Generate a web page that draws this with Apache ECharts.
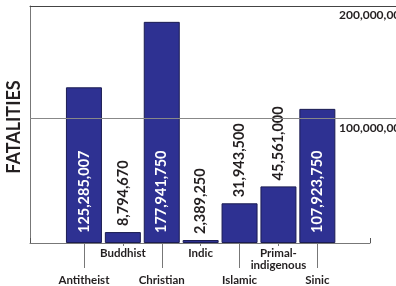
<!DOCTYPE html>
<html>
<head>
<meta charset="utf-8">
<script src="https://cdn.jsdelivr.net/npm/echarts@6/dist/echarts.min.js"></script>
<style>
html,body{margin:0;padding:0;background:#fff;}
#chart{width:396px;height:286px;}
</style>
</head>
<body>
<div id="chart"></div>
<script>
// ---- data ----
const categories = ['Antitheist', 'Buddhist', 'Christian', 'Indic', 'Islamic', 'Primal-\nindigenous', 'Sinic'];
const fatalities = [125285007, 8794670, 177941750, 2389250, 31943500, 45561000, 107923750];
const yTickValues = [100000000, 200000000];
const yTickLabels = ['100,000,000', '200,000,000'];
const axisTitle = 'FATALITIES';

// ---- layout ----
const Y_MAX = 190700000;      // value at the top frame line
const INSIDE_LIMIT = 60000000; // bars taller than this carry their label inside
const TOP = 6, BOTTOM = 43;
const FONT = 'Lato, "Open Sans", sans-serif';
const BAR = '#2e3192';
const TXT = '#231f20';

const fmt = v => v.toLocaleString('en-US');

const barData = fatalities.map(v => {
  const inside = v > INSIDE_LIMIT;
  return {
    value: v,
    label: inside
      ? { position: 'insideBottom', distance: 10, color: '#fff' }
      : { position: 'top', distance: 6, color: TXT }
  };
});

const gridBase = { top: TOP, bottom: BOTTOM, containLabel: false, outerBoundsMode: 'none' };

const chart = echarts.init(document.getElementById('chart'), null, { renderer: 'canvas' });
chart.setOption({
  animation: false,
  backgroundColor: '#fff',
  grid: [
    Object.assign({ left: 30, right: 0 }, gridBase),         // frame + gridline
    Object.assign({ left: 30, right: 26 }, gridBase),        // baseline + tick labels
    Object.assign({ left: 64.5, right: 59.2 }, gridBase)     // bars
  ],
  graphic: [{
    type: 'text', x: 14, y: 127, rotation: Math.PI / 2,
    style: { text: axisTitle, fontFamily: FONT, fontSize: 18, fontWeight: 'bold',
      fill: TXT, align: 'center', verticalAlign: 'middle' }
  }],
  xAxis: [
    { gridIndex: 0, type: 'value', position: 'top', min: 0, max: 1,
      axisLine: { show: true, onZero: false, lineStyle: { color: '#444', width: 1 } },
      axisTick: { show: false }, axisLabel: { show: false }, splitLine: { show: false } },
    { gridIndex: 1, type: 'value', position: 'bottom', min: 0, max: 1, interval: 1,
      axisLine: { show: true, onZero: false, lineStyle: { color: '#777', width: 1 } },
      axisTick: { show: true, inside: true, length: 5, lineStyle: { color: '#555' } },
      axisLabel: { show: false }, splitLine: { show: false } },
    { gridIndex: 2, type: 'category', data: categories,
      axisLine: { show: false, onZero: false },
      axisTick: { show: true, alignWithLabel: true, length: 25,
        interval: (i) => i % 2 === 0, lineStyle: { color: '#777' } },
      axisLabel: { interval: (i) => i % 2 === 0, margin: 31, fontFamily: FONT,
        fontSize: 11.5, fontWeight: 'bold', color: TXT } },
    { gridIndex: 2, type: 'category', data: categories, position: 'bottom',
      axisLine: { show: false, onZero: false },
      axisTick: { show: true, alignWithLabel: true, length: 3,
        interval: (i) => i % 2 === 1, lineStyle: { color: '#777' } },
      axisLabel: { interval: (i) => i % 2 === 1, margin: 4.5, fontFamily: FONT,
        fontSize: 11.5, fontWeight: 'bold', color: TXT, lineHeight: 12 } }
  ],
  yAxis: [
    { gridIndex: 0, type: 'value', min: 0, max: Y_MAX,
      axisLine: { show: true, onZero: false, lineStyle: { color: '#777', width: 1 } },
      axisTick: { show: false }, axisLabel: { show: false },
      splitLine: { show: false } },
    { gridIndex: 1, type: 'value', position: 'right', min: 0, max: Y_MAX,
      axisLine: { show: false }, axisTick: { show: false },
      axisLabel: {
        customValues: [yTickValues[0], Y_MAX],
        formatter: (v) => v >= Y_MAX ? yTickLabels[1] : yTickLabels[yTickValues.indexOf(v)],
        margin: -31, align: 'left', verticalAlign: 'top', padding: [3, 0, 0, 0],
        fontFamily: FONT, fontSize: 12, fontWeight: 'bold', color: TXT
      },
      splitLine: { show: false } },
    { gridIndex: 2, type: 'value', min: 0, max: Y_MAX, show: false,
      splitLine: { show: false } }
  ],
  series: [
    { type: 'line', xAxisIndex: 0, yAxisIndex: 0, data: [],
      markLine: { silent: true, symbol: 'none', label: { show: false },
        lineStyle: { color: '#888', width: 1, type: 'solid' },
        data: [{ yAxis: yTickValues[0] }] } },
    { type: 'bar', xAxisIndex: 2, yAxisIndex: 2, data: barData, barWidth: 36,
      itemStyle: { color: BAR, borderColor: '#1b1c52', borderWidth: 1 },
      label: { show: true, rotate: 90, align: 'left', verticalAlign: 'middle',
        fontFamily: FONT, fontSize: 14.5, fontWeight: 'bold',
        formatter: (p) => fmt(p.value) } }
  ]
});
</script>
</body>
</html>
